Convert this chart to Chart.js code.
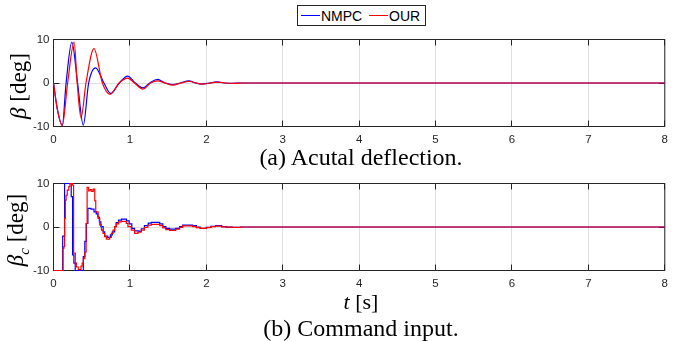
<!DOCTYPE html>
<html>
<head>
<meta charset="utf-8">
<script src="https://cdn.jsdelivr.net/npm/chart.js@4"></script>
<style>
  html, body { margin: 0; padding: 0; background: #fff; }
  #wrap { position: relative; width: 674px; height: 341px; overflow: hidden; background: #fff; }
  canvas { position: absolute; left: 0; }
  .serif { position: absolute; font-family: "Liberation Serif", "DejaVu Serif", serif; color: #000; white-space: nowrap; line-height: 1; }
  .ylab { font-size: 23px; transform: translate(-50%, -50%) rotate(-90deg); }
  .cap { font-size: 24px; transform: translate(-50%, -50%); }
  .xlab { font-size: 22px; transform: translate(-50%, -50%); }
  #legend { position: absolute; left: 297px; top: 5px; width: 127px; height: 19px; border: 1px solid #262626; background: #fff;
            font-family: "Liberation Sans", Arial, sans-serif; font-size: 14px; color: #000; }
  #legend span.ln { position: absolute; top: 9px; height: 1px; width: 19px; }
  #legend span.tx { position: absolute; top: 2px; line-height: 16px; }
</style>
</head>
<body>
<div id="wrap">
  <canvas id="cTop" width="674" height="150" style="top:0;width:674px;height:150px"></canvas>
  <canvas id="cBot" width="674" height="120" style="top:170px;width:674px;height:120px"></canvas>

  <div id="legend">
    <span class="ln" style="left:3px;background:#0000ff"></span><span class="tx" style="left:23px">NMPC</span>
    <span class="ln" style="left:71px;background:#ff0000"></span><span class="tx" style="left:91px">OUR</span>
  </div>

  <div class="serif ylab" style="left:18px;top:86px"><i>β</i> [deg]</div>
  <div class="serif ylab" style="left:18px;top:230px"><i>β</i><sub style="font-size:15px;font-style:italic">c</sub> [deg]</div>
  <div class="serif cap" style="left:361px;top:157px">(a) Acutal deflection.</div>
  <div class="serif xlab" style="left:361px;top:302px"><i>t</i> [s]</div>
  <div class="serif cap" style="left:361px;top:328px">(b) Command input.</div>
</div>

<script>
// ---- actual deflection beta (deg) ----
const tBetaNmpc = [0, 0.05, 0.115, 0.165, 0.24, 0.315, 0.39, 0.46, 0.55, 0.66, 0.75, 0.86, 0.97, 1.07, 1.17, 1.26, 1.36, 1.46, 1.56, 1.66, 1.77, 1.86, 1.94, 2.04, 2.14, 2.24, 2.32, 2.45, 3, 4, 5, 6, 7, 8];
const betaNmpc  = [0, -6.0, -9.7, 0, 9.4, 0, -9.7, 0, 3.5, 0, -2.4, 0, 1.6, 0, -1.1, 0, 0.85, 0, -0.35, 0, 0.5, 0, -0.25, 0, 0.25, 0, -0.1, 0, 0, 0, 0, 0, 0, 0];

const tBetaOur = [0, 0.05, 0.115, 0.185, 0.27, 0.31, 0.36, 0.425, 0.53, 0.64, 0.74, 0.86, 0.97, 1.06, 1.17, 1.27, 1.36, 1.46, 1.56, 1.67, 1.78, 1.86, 1.95, 2.05, 2.15, 2.25, 2.35, 2.5, 3, 4, 5, 6, 7, 8];
const betaOur  = [0, -6.0, -9.8, 0, 9.4, 0, -8.0, 0, 7.9, 0, -2.6, 0, 1.1, 0, -1.4, 0, 0.5, 0, -0.5, 0, 0.4, 0, -0.25, 0, 0.2, 0, -0.1, 0, 0, 0, 0, 0, 0, 0];

// ---- command input beta_c (deg), zero-order hold ----
const tCmdNmpc = [0, 0.12, 0.145, 0.232, 0.25, 0.267, 0.284, 0.39, 0.41, 0.43, 0.45, 0.49, 0.53, 0.56, 0.58, 0.60, 0.62, 0.65, 0.67, 0.71, 0.745, 0.77, 0.80, 0.82, 0.85, 0.89, 0.955, 0.99, 1.025, 1.06, 1.12, 1.15, 1.19, 1.24, 1.28, 1.39, 1.43, 1.47, 1.52, 1.6, 1.65, 1.69, 1.82, 1.87, 1.92, 2.0, 2.06, 2.12, 2.2, 2.26, 2.34, 2.45, 8];
const cmdNmpc  = [-10, -2.1, 10, 7.0, -6.4, -8.3, -10, -6.8, -3.3, 0.8, 4.3, 4.1, 3.5, 3.0, 2.3, 1.2, 0.1, -1.1, -2.1, -2.4, -1.8, -1.1, 0.1, 1.0, 1.6, 1.8, 1.4, 0.7, -0.3, -0.9, -1.0, -0.4, 0.3, 0.9, 1.07, 0.7, 0.1, -0.3, -0.5, -0.3, 0.1, 0.45, 0.3, 0.0, -0.3, -0.1, 0.15, 0.3, 0.1, -0.05, -0.1, 0, 0];

const tCmdOur = [0, 0.125, 0.135, 0.145, 0.155, 0.165, 0.18, 0.20, 0.215, 0.25, 0.263, 0.285, 0.30, 0.325, 0.36, 0.375, 0.39, 0.41, 0.427, 0.44, 0.46, 0.48, 0.50, 0.52, 0.54, 0.553, 0.584, 0.605, 0.627, 0.649, 0.67, 0.692, 0.735, 0.757, 0.779, 0.80, 0.822, 0.853, 0.888, 0.953, 0.974, 1.018, 1.062, 1.105, 1.148, 1.19, 1.235, 1.28, 1.39, 1.43, 1.47, 1.52, 1.6, 1.65, 1.69, 1.82, 1.87, 1.92, 2.0, 2.06, 2.12, 2.2, 2.26, 2.34, 2.45, 8];
const cmdOur  = [-10, -4.9, -4.5, 2.0, 6.2, 7.3, 8.5, 9.3, 10, 9.6, -6.0, -8.3, -9.2, -9.8, -9.0, -8.3, -7.3, -5.8, 0.8, 9.1, 8.3, 8.6, 8.2, 8.7, 6.0, 3.5, 2.0, 0.5, -0.7, -1.45, -2.2, -2.8, -2.4, -1.45, -0.7, 0.1, 0.7, 1.2, 1.3, 0.85, 0.1, -0.7, -1.45, -1.2, -0.7, -0.1, 0.45, 0.6, 0.3, -0.2, -0.6, -0.8, -0.5, -0.1, 0.25, 0.1, -0.15, -0.3, -0.15, 0.1, 0.2, 0.05, -0.05, -0.1, 0, 0];

// ---- axis ticks ----
const xTicks = [0, 1, 2, 3, 4, 5, 6, 7, 8];
const yTicks = [-10, 0, 10];
const seriesNames = ['NMPC', 'OUR'];

const pts = (t, v) => t.map((x, i) => ({ x, y: v[i] }));

// box outline and inward tick marks, drawn under the data lines
const boxPlugin = {
  id: 'box',
  beforeDatasetsDraw(chart) {
    const { ctx, chartArea: a, scales: { x, y } } = chart;
    const al = p => Math.floor(p) + 0.5;
    ctx.save();
    ctx.strokeStyle = '#262626';
    ctx.lineWidth = 1;
    ctx.beginPath();
    xTicks.forEach(v => {
      const px = al(x.getPixelForValue(v));
      ctx.moveTo(px, a.bottom); ctx.lineTo(px, a.bottom - 6);
      ctx.moveTo(px, a.top);    ctx.lineTo(px, a.top + 6);
    });
    yTicks.forEach(v => {
      const py = al(y.getPixelForValue(v));
      ctx.moveTo(a.left, py);  ctx.lineTo(a.left + 6, py);
      ctx.moveTo(a.right, py); ctx.lineTo(a.right - 6, py);
    });
    ctx.stroke();
    ctx.strokeRect(a.left, a.top, a.right - a.left, a.bottom - a.top);
    ctx.restore();
  }
};

function makeChart(id, blue, red, stepped, topPad, xAxisH) {
  const lineOpts = stepped ? { stepped: true } : { cubicInterpolationMode: 'monotone' };
  return new Chart(document.getElementById(id), {
    type: 'line',
    data: {
      datasets: [
        Object.assign({ label: seriesNames[0], data: blue, borderColor: '#0000ff', borderWidth: 1.2, pointRadius: 0, order: 2, clip: 1 }, lineOpts),
        Object.assign({ label: seriesNames[1], data: red, borderColor: '#ff0000', borderWidth: 1.2, pointRadius: 0, order: 1, clip: 1 }, lineOpts)
      ]
    },
    options: {
      responsive: false,
      animation: false,
      devicePixelRatio: 1,
      events: [],
      layout: { padding: { top: topPad, right: 5.5, left: 0, bottom: 0 } },
      plugins: { legend: { display: false }, tooltip: { enabled: false } },
      scales: {
        x: {
          type: 'linear', min: 0, max: 8,
          afterBuildTicks: s => { s.ticks = xTicks.map(v => ({ value: v })); },
          afterFit: s => { s.height = xAxisH; },
          grid: { color: 'rgba(38,38,38,0.15)', lineWidth: 1, drawTicks: false },
          border: { display: false },
          ticks: { padding: 6, maxRotation: 0, autoSkip: false, color: '#262626',
                   font: { family: '"Liberation Sans", Arial, sans-serif', size: 11.5 } }
        },
        y: {
          min: -10, max: 10,
          afterBuildTicks: s => { s.ticks = yTicks.map(v => ({ value: v })); },
          afterFit: s => { s.width = 53.5; },
          grid: { color: 'rgba(38,38,38,0.15)', lineWidth: 1, drawTicks: false },
          border: { display: false },
          ticks: { padding: 4, color: '#262626',
                   font: { family: '"Liberation Sans", Arial, sans-serif', size: 11.5 } }
        }
      }
    },
    plugins: [boxPlugin]
  });
}

makeChart('cTop', pts(tBetaNmpc, betaNmpc), pts(tBetaOur, betaOur), false, 39.5, 23.5);
makeChart('cBot', pts(tCmdNmpc, cmdNmpc), pts(tCmdOur, cmdOur), true, 13.5, 19.5);
</script>
</body>
</html>
